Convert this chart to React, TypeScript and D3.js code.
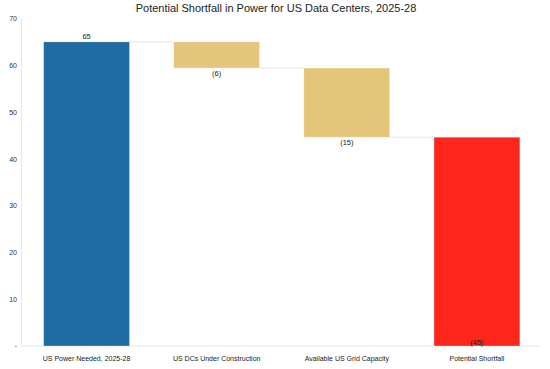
import React from 'react';
import * as d3 from 'd3';

const categories = ['US Power Needed, 2025-28', 'US DCs Under Construction', 'Available US Grid Capacity', 'Potential Shortfall'];
const changes = [65.1, -5.6, -14.8, 0];
const kinds = ['total', 'delta', 'delta', 'result'];
const yTicks = [0, 10, 20, 30, 40, 50, 60, 70];

const colors: Record<string, string> = {
  total: '#1f6ca4',
  delta: '#e4c67a',
  result: '#fe251b',
};

const W = 550;
const H = 369;
const margin = { top: 19, right: 8, bottom: 23, left: 21.5 };

export default function App() {
  // running totals for the waterfall
  let run = 0;
  const bars = categories.map((c, i) => {
    let start: number, end: number;
    if (kinds[i] === 'result') {
      start = run;
      end = 0;
    } else {
      start = kinds[i] === 'total' ? 0 : run;
      end = run + changes[i];
    }
    if (kinds[i] !== 'result') run = end;
    const shown = kinds[i] === 'result' ? -start : changes[i];
    return { c, start, end, kind: kinds[i], shown };
  });

  const x = d3.scaleBand<string>()
    .domain(categories)
    .range([margin.left, W - margin.right])
    .paddingInner(0.34)
    .paddingOuter(0.17);

  const y = d3.scaleLinear()
    .domain([0, 70])
    .range([H - margin.bottom, margin.top]);

  const fmt = (v: number) => v < 0 ? `(${Math.round(-v)})` : `${Math.round(v)}`;
  const font = 'Liberation Sans, Arial, sans-serif';

  return (
    <svg width={W} height={H} style={{ position: 'absolute', left: 0, top: 0, background: '#fff' }}>
      <text x={276} y={12} textAnchor="middle" fontFamily={font} fontSize={11} fill="#222">
        Potential Shortfall in Power for US Data Centers, 2025-28
      </text>

      {/* axes */}
      <line x1={margin.left} x2={margin.left} y1={y(70)} y2={y(0)} stroke="#e6e6e6" />
      <line x1={margin.left} x2={W - 10} y1={y(0)} y2={y(0)} stroke="#e6e6e6" />
      {yTicks.map(t => (
        <text key={t} x={17} y={y(t)} dy="0.35em" textAnchor="end" fontFamily={font} fontSize={7} fill="#333">
          {t === 0 ? '-' : t}
        </text>
      ))}

      {/* connectors */}
      {bars.slice(0, -1).map((b, i) => {
        const x1 = (x(b.c) || 0) + x.bandwidth();
        const x2 = (x(categories[i + 1]) || 0);
        return <line key={'c' + i} x1={x1} x2={x2} y1={y(b.end)} y2={y(b.end)} stroke="#e3e3e3" strokeWidth={1} />;
      })}

      {/* bars */}
      {bars.map(b => {
        const top = y(Math.max(b.start, b.end));
        const bot = y(Math.min(b.start, b.end));
        return (
          <rect key={b.c} x={x(b.c)} y={top} width={x.bandwidth()} height={bot - top}
            fill={colors[b.kind]} stroke="#ffffff" strokeOpacity={0.5} strokeWidth={0.6} />
        );
      })}

      {/* value labels */}
      {bars.map(b => {
        const cx = (x(b.c) || 0) + x.bandwidth() / 2;
        let ly: number;
        if (b.kind === 'total') ly = y(b.end) - 3;
        else if (b.kind === 'result') ly = y(0) - 1.5;
        else ly = y(b.end) + 8;
        return (
          <text key={'v' + b.c} x={cx} y={ly} textAnchor="middle" fontFamily={font} fontSize={7.5} fill="#222">
            {fmt(b.shown)}
          </text>
        );
      })}

      {/* category labels */}
      {categories.map(c => (
        <text key={'x' + c} x={(x(c) || 0) + x.bandwidth() / 2} y={361} textAnchor="middle" fontFamily={font} fontSize={7} fill="#222">
          {c}
        </text>
      ))}
    </svg>
  );
}
